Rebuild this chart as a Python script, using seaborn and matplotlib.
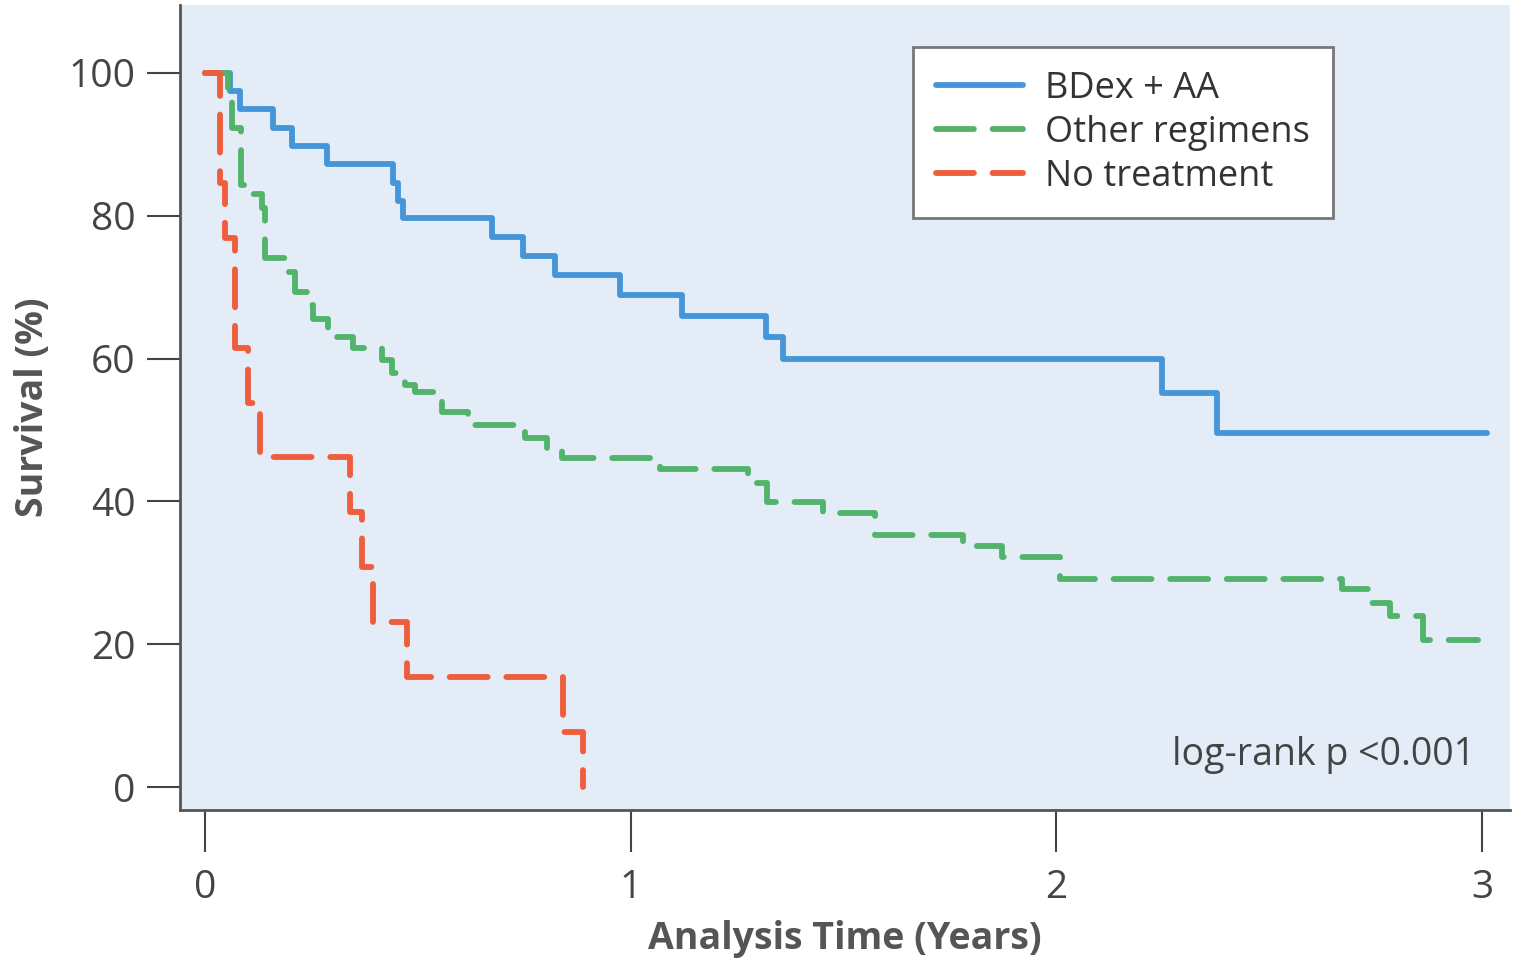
import pandas as pd
import matplotlib
matplotlib.use("Agg")
import matplotlib.pyplot as plt
import seaborn as sns

# Kaplan-Meier steps (time in years, survival in %)
bdex_t = [0, 0.059, 0.082, 0.160, 0.204, 0.287, 0.442, 0.453, 0.465, 0.674, 0.747,
          0.822, 0.975, 1.120, 1.318, 1.358, 2.248, 2.377, 3.011]
bdex_s = [100, 97.4, 94.9, 92.3, 89.7, 87.2, 84.6, 82.1, 79.6, 77.0, 74.4,
          71.7, 68.9, 66.0, 63.0, 60.0, 55.2, 49.6, 49.6]

other_t = [0, 0.054, 0.063, 0.085, 0.106, 0.134, 0.141, 0.188, 0.211, 0.240, 0.254,
           0.289, 0.348, 0.416, 0.439, 0.470, 0.493, 0.557, 0.618, 0.752, 0.803,
           0.839, 1.069, 1.276, 1.320, 1.452, 1.574, 1.781, 1.872, 2.008, 2.671,
           2.741, 2.784, 2.862, 2.990]
other_s = [100, 97.3, 92.3, 84.3, 83.0, 81.0, 74.1, 72.1, 69.3, 67.5, 65.5,
           63.0, 61.5, 59.8, 58.0, 56.3, 55.3, 52.5, 50.7, 48.9, 47.5,
           46.1, 44.5, 42.6, 39.9, 38.4, 35.3, 33.8, 32.2, 29.2, 27.7,
           25.8, 24.0, 20.6, 20.6]

none_t = [0, 0.035, 0.047, 0.070, 0.101, 0.129, 0.341, 0.369, 0.395, 0.475, 0.841, 0.888]
none_s = [100, 84.6, 76.9, 61.5, 53.8, 46.2, 38.5, 30.8, 23.1, 15.4, 7.7, 0]

groups = ["BDex + AA", "Other regimens", "No treatment"]
colors = ["#4596d8", "#52b46a", "#ee5d3c"]

df = pd.concat([
    pd.DataFrame({"time": bdex_t, "surv": bdex_s, "group": groups[0]}),
    pd.DataFrame({"time": other_t, "surv": other_s, "group": groups[1]}),
    pd.DataFrame({"time": none_t, "surv": none_s, "group": groups[2]}),
])

sns.set_style("ticks")
plt.rcParams["font.family"] = ["Open Sans", "DejaVu Sans"]

fig = plt.figure(figsize=(15.13, 9.6), dpi=100)
ax = fig.add_axes([0.119, 0.156, 0.879, 0.839])
ax.set_facecolor("#e4ecf7")

sns.lineplot(data=df, x="time", y="surv", hue="group", style="group",
             hue_order=groups, style_order=groups, palette=colors,
             dashes={groups[0]: "", groups[1]: (6.5, 3.2), groups[2]: (6.5, 3.2)},
             estimator=None, drawstyle="steps-post", linewidth=4.2,
             dash_capstyle="round", solid_capstyle="round",
             sort=False, ax=ax)

ax.set_xlim(-0.059, 3.066)
ax.set_ylim(-3.2, 109.5)
ax.set_xticks([0, 1, 2, 3])
ax.set_yticks([0, 20, 40, 60, 80, 100])
ax.tick_params(axis="both", labelsize=28, labelcolor="#444444", color="#444444",
               width=1.5, direction="out")
ax.tick_params(axis="y", length=24, pad=8)
ax.tick_params(axis="x", length=30, pad=12)

for side in ["top", "right"]:
    ax.spines[side].set_visible(False)
for side in ["left", "bottom"]:
    ax.spines[side].set_color("#555555")
    ax.spines[side].set_linewidth(2)

ax.set_xlabel("Analysis Time (Years)", fontsize=27, fontweight="bold",
              color="#555555", labelpad=10)
ax.set_ylabel("Survival (%)", fontsize=27, fontweight="bold",
              color="#555555", labelpad=12)

ax.text(2.983, 4.5, "log-rank p <0.001", ha="right", va="center",
        fontsize=27, color="#444444")

leg = ax.legend(loc="upper right", bbox_to_anchor=(0.867, 0.947), fontsize=26,
                frameon=True, fancybox=False, edgecolor="#777777",
                framealpha=1, handlelength=2.4, handletextpad=0.6,
                labelspacing=0.22, borderpad=0.65, borderaxespad=0)
leg.get_frame().set_linewidth(2)
for t in leg.get_texts():
    t.set_color("#333333")

fig.savefig("out.png", dpi=100, facecolor="white")
